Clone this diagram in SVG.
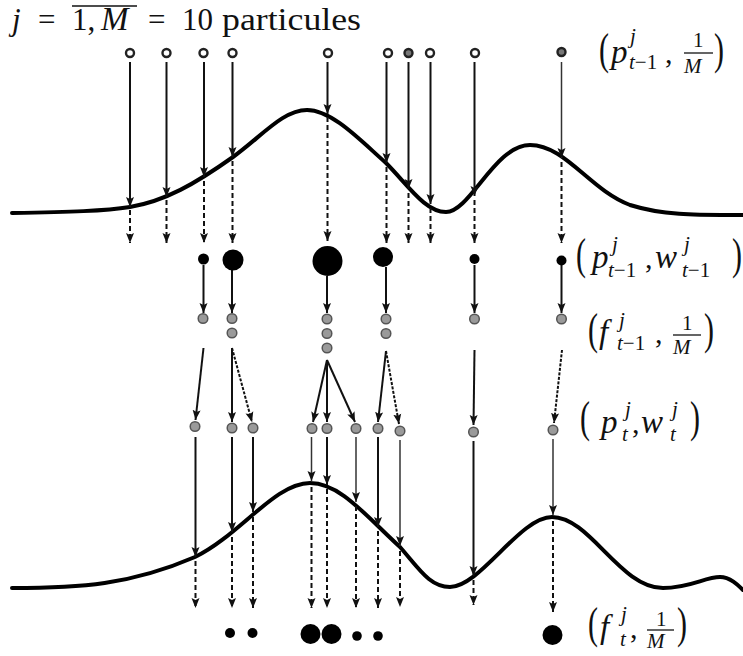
<svg xmlns="http://www.w3.org/2000/svg" width="743" height="656" viewBox="0 0 743 656">
<style>
.bg{fill:#fff}
.cv{fill:none;stroke:#000;stroke-width:4;stroke-linecap:round}
.s{stroke:#111;stroke-width:2;fill:none}
.t{stroke:#333;stroke-width:1.5;fill:none}
.d{stroke:#111;stroke-width:2;fill:none;stroke-dasharray:5 3}
.f{stroke:#111;stroke-width:2;fill:none;stroke-dasharray:3 1.5}
.o{fill:#fff;stroke:#222;stroke-width:2.4}
.od{fill:#777;stroke:#222;stroke-width:2.4}
.b{fill:#000}
.g{fill:#9a9a9a;stroke:#555;stroke-width:1.5}
.m{font-family:"Liberation Serif",serif;fill:#111}
.i{font-style:italic}
</style>
<defs>
<marker id="ah" markerUnits="userSpaceOnUse" markerWidth="10" markerHeight="10" viewBox="0 0 10 10" refX="10" refY="5" orient="auto">
<path d="M0,1 L10,5 L0,9 L2,5 z" fill="#111"/>
</marker>
</defs>
<rect class="bg" x="0" y="0" width="743" height="656"/>

<g id="title" class="m" font-size="31">
<text y="30"><tspan x="12" class="i">j</tspan><tspan x="38">=</tspan><tspan x="72">1,</tspan><tspan x="101" class="i" font-size="33">M</tspan><tspan x="148">=</tspan><tspan x="182">10</tspan><tspan x="222" textLength="139" lengthAdjust="spacingAndGlyphs">particules</tspan></text>
<line x1="72" y1="6" x2="137" y2="6" stroke="#111" stroke-width="1.5"/>
</g>

<g id="curves">
<path id="curve-top" class="cv" d="M12,213 C70,212 105,211 130,207 C165,201 195,184 233,157 C262,136 283,110 307,110 C332,110 360,140 386,163 C408,185 425,212 446,212 C470,212 495,145 530,145 C565,145 590,190 630,205 C665,216 700,215 743,215"/>
<path id="curve-bottom" class="cv" d="M12,588 C80,588 130,585 195,557 C240,535 275,483 310,483 C340,483 365,515 400,547 C420,570 430,587 450,587 C480,587 520,517 552,517 C590,517 620,588 663,588 C690,588 705,577 720,577 C730,577 738,585 743,590"/>
</g>

<g id="connectors">
<line class="s" x1="130" y1="62" x2="130" y2="207" marker-end="url(#ah)"/>
<line class="s" x1="166.5" y1="62" x2="166.5" y2="197" marker-end="url(#ah)"/>
<line class="s" x1="204" y1="62" x2="204" y2="177" marker-end="url(#ah)"/>
<line class="s" x1="232.5" y1="62" x2="232.5" y2="157" marker-end="url(#ah)"/>
<line class="s" x1="327.5" y1="62" x2="327.5" y2="114" marker-end="url(#ah)"/>
<line class="s" x1="386.5" y1="62" x2="386.5" y2="163" marker-end="url(#ah)"/>
<line class="s" x1="408.5" y1="62" x2="408.5" y2="189" marker-end="url(#ah)"/>
<line class="s" x1="430.5" y1="62" x2="430.5" y2="204" marker-end="url(#ah)"/>
<line class="s" x1="474.5" y1="62" x2="474.5" y2="196" marker-end="url(#ah)"/>
<line class="t" x1="561.5" y1="62" x2="561.5" y2="158" marker-end="url(#ah)"/>
<line class="d" x1="130" y1="210" x2="130" y2="243" marker-end="url(#ah)"/>
<line class="d" x1="166.5" y1="200" x2="166.5" y2="243" marker-end="url(#ah)"/>
<line class="d" x1="204" y1="181" x2="204" y2="243" marker-end="url(#ah)"/>
<line class="d" x1="232.5" y1="161" x2="232.5" y2="243" marker-end="url(#ah)"/>
<line class="d" x1="327.5" y1="117" x2="327.5" y2="241" marker-end="url(#ah)"/>
<line class="d" x1="386.5" y1="167" x2="386.5" y2="243" marker-end="url(#ah)"/>
<line class="d" x1="408.5" y1="193" x2="408.5" y2="243" marker-end="url(#ah)"/>
<line class="d" x1="430.5" y1="208" x2="430.5" y2="243" marker-end="url(#ah)"/>
<line class="d" x1="474.5" y1="200" x2="474.5" y2="243" marker-end="url(#ah)"/>
<line class="d" x1="561.5" y1="162" x2="561.5" y2="243" marker-end="url(#ah)"/>
<line class="s" x1="203.5" y1="265" x2="203.5" y2="313" marker-end="url(#ah)"/>
<line class="s" x1="232" y1="270" x2="232" y2="313" marker-end="url(#ah)"/>
<line class="s" x1="327" y1="276" x2="327" y2="313" marker-end="url(#ah)"/>
<line class="s" x1="386" y1="267" x2="386" y2="313" marker-end="url(#ah)"/>
<line class="s" x1="474.5" y1="265" x2="474.5" y2="313" marker-end="url(#ah)"/>
<line class="s" x1="561.5" y1="265" x2="561.5" y2="313" marker-end="url(#ah)"/>
<line class="s" x1="203.5" y1="348" x2="195.5" y2="420" marker-end="url(#ah)"/>
<line class="s" x1="232" y1="348" x2="232" y2="422" marker-end="url(#ah)"/>
<line class="f" x1="232" y1="348" x2="252" y2="422" marker-end="url(#ah)"/>
<line class="s" x1="327" y1="360" x2="313" y2="422" marker-end="url(#ah)"/>
<line class="s" x1="327" y1="360" x2="327" y2="422" marker-end="url(#ah)"/>
<line class="s" x1="327" y1="360" x2="355" y2="422" marker-end="url(#ah)"/>
<line class="s" x1="386" y1="351" x2="378" y2="422" marker-end="url(#ah)"/>
<line class="f" x1="386" y1="351" x2="399" y2="424" marker-end="url(#ah)"/>
<line class="s" x1="474.5" y1="350" x2="473.5" y2="425" marker-end="url(#ah)"/>
<line class="f" x1="562" y1="350" x2="554" y2="423" marker-end="url(#ah)"/>
<line class="s" x1="195.5" y1="437" x2="195.5" y2="557" marker-end="url(#ah)"/>
<line class="s" x1="232" y1="437" x2="232" y2="532" marker-end="url(#ah)"/>
<line class="s" x1="253" y1="437" x2="253" y2="512" marker-end="url(#ah)"/>
<line class="t" x1="311.5" y1="437" x2="311.5" y2="481" marker-end="url(#ah)"/>
<line class="s" x1="327" y1="437" x2="327" y2="485" marker-end="url(#ah)"/>
<line class="t" x1="356" y1="437" x2="356" y2="502" marker-end="url(#ah)"/>
<line class="s" x1="378" y1="437" x2="378" y2="527" marker-end="url(#ah)"/>
<line class="t" x1="400" y1="440" x2="400" y2="546" marker-end="url(#ah)"/>
<line class="s" x1="473.5" y1="441" x2="473.5" y2="576" marker-end="url(#ah)"/>
<line class="t" x1="553" y1="439" x2="553" y2="515" marker-end="url(#ah)"/>
<line class="d" x1="195.5" y1="561" x2="195.5" y2="608" marker-end="url(#ah)"/>
<line class="d" x1="232" y1="537" x2="232" y2="608" marker-end="url(#ah)"/>
<line class="d" x1="253" y1="517" x2="253" y2="608" marker-end="url(#ah)"/>
<line class="d" x1="311.5" y1="487" x2="311.5" y2="608" marker-end="url(#ah)"/>
<line class="d" x1="327" y1="489" x2="327" y2="608" marker-end="url(#ah)"/>
<line class="d" x1="356" y1="506" x2="356" y2="608" marker-end="url(#ah)"/>
<line class="d" x1="378" y1="531" x2="378" y2="608" marker-end="url(#ah)"/>
<line class="d" x1="400" y1="551" x2="400" y2="607" marker-end="url(#ah)"/>
<line class="d" x1="473.5" y1="580" x2="473.5" y2="605" marker-end="url(#ah)"/>
<line class="d" x1="553" y1="521" x2="553" y2="612" marker-end="url(#ah)"/>
</g>

<g id="row1">
<circle class="o" cx="130" cy="53" r="4"/>
<circle class="o" cx="166.5" cy="53" r="4"/>
<circle class="o" cx="203.5" cy="53" r="4"/>
<circle class="o" cx="232.5" cy="53" r="4"/>
<circle class="o" cx="328" cy="53" r="4"/>
<circle class="o" cx="388" cy="53" r="4"/>
<circle class="od" cx="408.5" cy="53" r="4"/>
<circle class="o" cx="430" cy="53" r="4"/>
<circle class="o" cx="475" cy="53" r="4"/>
<circle class="od" cx="561.5" cy="52" r="4"/>
</g>

<g id="row2">
<circle class="b" cx="203.5" cy="259" r="5.5"/>
<circle class="b" cx="233" cy="260" r="10.5"/>
<circle class="b" cx="327.5" cy="261" r="15"/>
<circle class="b" cx="383" cy="257" r="10"/>
<circle class="b" cx="474.5" cy="259" r="5"/>
<circle class="b" cx="561.5" cy="260.5" r="5"/>
</g>

<g id="row3">
<circle class="g" cx="203" cy="318.5" r="4.8"/>
<circle class="g" cx="232" cy="318.5" r="4.8"/>
<circle class="g" cx="232" cy="333" r="4.8"/>
<circle class="g" cx="327" cy="319" r="4.8"/>
<circle class="g" cx="327" cy="333.5" r="4.8"/>
<circle class="g" cx="327" cy="348" r="4.8"/>
<circle class="g" cx="386" cy="319" r="4.8"/>
<circle class="g" cx="386" cy="333.5" r="4.8"/>
<circle class="g" cx="474.5" cy="319" r="4.8"/>
<circle class="g" cx="561.5" cy="319" r="4.8"/>
</g>

<g id="row4">
<circle class="g" cx="195" cy="426.5" r="4.8"/>
<circle class="g" cx="232" cy="428" r="4.8"/>
<circle class="g" cx="253" cy="428" r="4.8"/>
<circle class="g" cx="312" cy="428.5" r="4.8"/>
<circle class="g" cx="327" cy="428.5" r="4.8"/>
<circle class="g" cx="356" cy="428.5" r="4.8"/>
<circle class="g" cx="378" cy="428.5" r="4.8"/>
<circle class="g" cx="400" cy="431" r="4.8"/>
<circle class="g" cx="473.5" cy="432" r="4.8"/>
<circle class="g" cx="553" cy="430" r="4.8"/>
</g>

<g id="row5">
<circle class="b" cx="230" cy="633" r="5"/>
<circle class="b" cx="252.5" cy="633" r="5"/>
<circle class="b" cx="310.5" cy="634" r="10"/>
<circle class="b" cx="331.5" cy="634" r="10"/>
<circle class="b" cx="357" cy="636" r="4.8"/>
<circle class="b" cx="378" cy="636" r="4.8"/>
<circle class="b" cx="552.5" cy="635" r="10"/>
</g>

<g id="label1" class="m">
<text transform="translate(599,64) scale(1,1.45)" font-size="30">(</text>
<text x="611" y="63" font-size="33" class="i">p</text>
<text x="630" y="43" font-size="21" class="i">j</text>
<text x="629" y="69" font-size="21"><tspan class="i">t</tspan>−1</text>
<text x="665" y="63" font-size="30">,</text>
<text x="693" y="47" font-size="21">1</text>
<line x1="684" y1="53" x2="713" y2="53" stroke="#111" stroke-width="1.3"/>
<text x="684" y="73" font-size="21" class="i">M</text>
<text transform="translate(714,64) scale(1,1.45)" font-size="30">)</text>
</g>

<g id="label2" class="m">
<text transform="translate(576,269) scale(1,1.5)" font-size="30">(</text>
<text x="592" y="268" font-size="33" class="i">p</text>
<text x="612" y="251" font-size="21" class="i">j</text>
<text x="608" y="277" font-size="21"><tspan class="i">t</tspan>−1</text>
<text x="645" y="268" font-size="30">,</text>
<text x="655" y="268" font-size="33" class="i">w</text>
<text x="684" y="251" font-size="21" class="i">j</text>
<text x="682" y="277" font-size="21"><tspan class="i">t</tspan>−1</text>
<text transform="translate(732,269) scale(1,1.5)" font-size="30">)</text>
</g>

<g id="label3" class="m">
<text transform="translate(588,344) scale(1,1.45)" font-size="30">(</text>
<text x="599" y="343" font-size="33" class="i">f</text>
<text x="619" y="327" font-size="21" class="i">j</text>
<text x="617" y="350" font-size="21"><tspan class="i">t</tspan>−1</text>
<text x="655" y="343" font-size="30">,</text>
<text x="682" y="330" font-size="21">1</text>
<line x1="673" y1="335" x2="701" y2="335" stroke="#111" stroke-width="1.3"/>
<text x="673" y="354" font-size="21" class="i">M</text>
<text transform="translate(704,344) scale(1,1.45)" font-size="30">)</text>
</g>

<g id="label4" class="m">
<text transform="translate(580,432) scale(1,1.5)" font-size="30">(</text>
<text x="601" y="433" font-size="33" class="i">p</text>
<text x="625" y="416" font-size="21" class="i">j</text>
<text x="622" y="441" font-size="21" class="i">t</text>
<text x="632" y="433" font-size="30">,</text>
<text x="641" y="433" font-size="33" class="i">w</text>
<text x="672" y="416" font-size="21" class="i">j</text>
<text x="670" y="441" font-size="21" class="i">t</text>
<text transform="translate(690,432) scale(1,1.5)" font-size="30">)</text>
</g>

<g id="label5" class="m">
<text transform="translate(588,638) scale(1,1.45)" font-size="30">(</text>
<text x="600" y="638" font-size="33" class="i">f</text>
<text x="621" y="621" font-size="21" class="i">j</text>
<text x="620" y="646" font-size="21" class="i">t</text>
<text x="630" y="638" font-size="30">,</text>
<text x="656" y="626" font-size="21">1</text>
<line x1="647" y1="630" x2="674" y2="630" stroke="#111" stroke-width="1.3"/>
<text x="647" y="648" font-size="21" class="i">M</text>
<text transform="translate(677,638) scale(1,1.45)" font-size="30">)</text>
</g>
</svg>
